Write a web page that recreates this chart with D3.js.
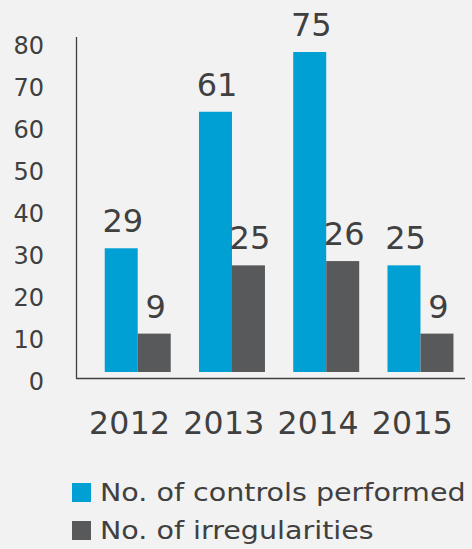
<!DOCTYPE html>
<html><head><meta charset="utf-8">
<script src="https://cdn.jsdelivr.net/npm/d3@7"></script>
<style>
html,body{margin:0;padding:0;background:#f2f2f2;}
svg{display:block;}
text{font-family:"DejaVu Sans",sans-serif;fill:#404040;}
</style></head>
<body>
<svg id="chart" width="472" height="549"></svg>
<script>
const years = ["2012","2013","2014","2015"];
const seriesNames = ["No. of controls performed","No. of irregularities"];
const controls = [29, 61, 75, 25];
const irregularities = [9, 25, 26, 9];
const yTicks = [0,10,20,30,40,50,60,70,80];
const colors = ["#009fd4","#58595b"];

const svg = d3.select("#chart");
const x0 = d3.scaleBand().domain(years).range([90.6, 467.6]).paddingInner(0.3).paddingOuter(0.15);
const x1 = d3.scaleBand().domain([0,1]).range([0, x0.bandwidth()]);
const y = d3.scaleLinear().domain([0,80]).range([372, 30.7]);
const yTick = d3.scaleLinear().domain([0,80]).range([381, 45]);

// axis lines
svg.append("line").attr("x1",76.5).attr("x2",76.5).attr("y1",37).attr("y2",378.5)
  .attr("stroke","#404040").attr("stroke-width",1.3);
svg.append("line").attr("x1",76).attr("x2",465).attr("y1",378.5).attr("y2",378.5)
  .attr("stroke","#404040").attr("stroke-width",1.3);

// tick labels
const ax = svg.append("g").attr("transform","translate(44,0)")
  .call(d3.axisLeft(yTick).tickValues(yTicks).tickSize(0).tickPadding(0));
ax.select(".domain").remove();
ax.selectAll("text").attr("font-family","DejaVu Sans").attr("font-size",24)
  .attr("fill","#404040").attr("dy","0.36em");

const data = years.map((yr,i)=>({yr, vals:[controls[i], irregularities[i]]}));
const g = svg.selectAll("g.grp").data(data).join("g").attr("class","grp")
  .attr("transform",d=>`translate(${x0(d.yr)},0)`);
g.selectAll("rect").data(d=>d.vals.map((v,k)=>({v,k}))).join("rect")
  .attr("x",d=>x1(d.k)).attr("width",x1.bandwidth())
  .attr("y",d=>y(d.v)).attr("height",d=>y(0)-y(d.v))
  .attr("fill",d=>colors[d.k]);
g.selectAll("text.val").data(d=>d.vals.map((v,k)=>({v,k}))).join("text").attr("class","val")
  .attr("x",d=>x1(d.k)+x1.bandwidth()/2+1.5).attr("y",d=>y(d.v)-16)
  .attr("text-anchor","middle").attr("font-size",32).text(d=>d.v);

// year labels
svg.selectAll("text.yr").data(years).join("text").attr("class","yr")
  .attr("x",d=>x0(d)+x0.bandwidth()/2-8).attr("y",434)
  .attr("text-anchor","middle").attr("font-size",31.5).attr("font-weight",500)
  .attr("letter-spacing",0.3).text(d=>d);

// legend
const lg = svg.selectAll("g.lg").data(seriesNames).join("g").attr("class","lg")
  .attr("transform",(d,i)=>`translate(72,${483+i*38})`);
lg.append("rect").attr("width",19).attr("height",19).attr("fill",(d,i)=>colors[i]);
lg.append("text").attr("x",28).attr("y",18).attr("font-size",24.5).text(d=>d)
  .each(function(){
    const w = this.getComputedTextLength();
    d3.select(this).attr("textLength", w*1.165).attr("lengthAdjust","spacingAndGlyphs");
  });
</script>
</body></html>
